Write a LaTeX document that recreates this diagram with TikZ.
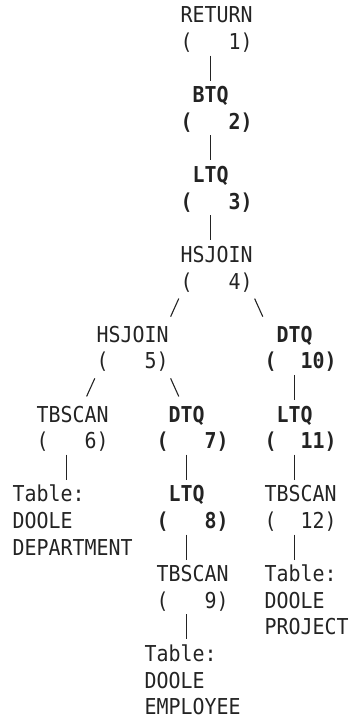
\documentclass[tikz,border=0pt]{standalone}
\usepackage{fontspec}
\usepackage{tikz}
\setmonofont{DejaVu Sans Mono}[FakeStretch=0.91]
\definecolor{ink}{RGB}{35,35,35}

\begin{document}
\begin{tikzpicture}[x=12pt,y=-26.6pt,
op/.style={anchor=west,inner sep=0pt,outer sep=0pt,text height=21.3pt,text depth=5.3pt,text=ink,font=\ttfamily\fontsize{21.9pt}{26.6pt}\selectfont},
opq/.style={op,font=\ttfamily\bfseries\fontsize{21.9pt}{26.6pt}\selectfont},
pipe/.style={draw=ink,line width=1.1pt,shorten <=0.8pt,shorten >=0.8pt},
slash/.style={draw=ink,line width=1.1pt,shorten <=4.7pt,shorten >=4.7pt}
]
\useasboundingbox (-12.7pt,15pt) rectangle (335.3pt,-704pt);

\node[op] (ret) at (14,0) {RETURN};
\node[op] (retn) at (14,1) {(\ \ \ 1)};
\node[opq] (btq) at (15,3) {BTQ};
\node[opq] (btqn) at (14,4) {(\ \ \ 2)};
\node[opq] (ltqa) at (15,6) {LTQ};
\node[opq] (ltqan) at (14,7) {(\ \ \ 3)};
\node[op] (hsja) at (14,9) {HSJOIN};
\node[op] (hsjan) at (14,10) {(\ \ \ 4)};

\node[op] (hsjb) at (7,12) {HSJOIN};
\node[op] (hsjbn) at (7,13) {(\ \ \ 5)};
\node[opq] (dtqa) at (22,12) {DTQ};
\node[opq] (dtqan) at (21,13) {(\ \ 10)};

\node[op] (tbsa) at (2,15) {TBSCAN};
\node[op] (tbsan) at (2,16) {(\ \ \ 6)};
\node[opq] (dtqb) at (13,15) {DTQ};
\node[opq] (dtqbn) at (12,16) {(\ \ \ 7)};
\node[opq] (ltqb) at (22,15) {LTQ};
\node[opq] (ltqbn) at (21,16) {(\ \ 11)};

\node[op] (dept1) at (0,18) {Table:};
\node[op] (dept2) at (0,19) {DOOLE};
\node[op] (dept3) at (0,20) {DEPARTMENT};
\node[opq] (ltqc) at (13,18) {LTQ};
\node[opq] (ltqcn) at (12,19) {(\ \ \ 8)};
\node[op] (tbsc) at (21,18) {TBSCAN};
\node[op] (tbscn) at (21,19) {(\ \ 12)};

\node[op] (tbsb) at (12,21) {TBSCAN};
\node[op] (tbsbn) at (12,22) {(\ \ \ 9)};
\node[op] (proj1) at (21,21) {Table:};
\node[op] (proj2) at (21,22) {DOOLE};
\node[op] (proj3) at (21,23) {PROJECT};

\node[op] (emp1) at (11,24) {Table:};
\node[op] (emp2) at (11,25) {DOOLE};
\node[op] (emp3) at (11,26) {EMPLOYEE};

% pipes
\draw[pipe] ([xshift=-6pt]retn.south) -- ([xshift=-6pt]retn.south |- btq.north);
\draw[pipe] ([xshift=-6pt]btqn.south) -- ([xshift=-6pt]btqn.south |- ltqa.north);
\draw[pipe] ([xshift=-6pt]ltqan.south) -- ([xshift=-6pt]ltqan.south |- hsja.north);
\draw[pipe] ([xshift=-6pt]dtqan.south) -- ([xshift=-6pt]dtqan.south |- ltqb.north);
\draw[pipe] ([xshift=-6pt]tbsan.south) -- ([xshift=-6pt]tbsan.south |- dept1.north);
\draw[pipe] ([xshift=-6pt]dtqbn.south) -- ([xshift=-6pt]dtqbn.south |- ltqc.north);
\draw[pipe] ([xshift=-6pt]ltqbn.south) -- ([xshift=-6pt]ltqbn.south |- tbsc.north);
\draw[pipe] ([xshift=-6pt]ltqcn.south) -- ([xshift=-6pt]ltqcn.south |- tbsb.north);
\draw[pipe] ([xshift=-6pt]tbscn.south) -- ([xshift=-6pt]tbscn.south |- proj1.north);
\draw[pipe] ([xshift=-6pt]tbsbn.south) -- ([xshift=-6pt]tbsbn.south |- emp1.north);

% slashes
\draw[slash] (hsjan.south west) -- (hsjb.north east);
\draw[slash] (hsjan.south east) -- (dtqan.west |- dtqa.north);
\draw[slash] (hsjbn.south west) -- ([xshift=-24pt]tbsa.north east);
\draw[slash] (hsjbn.south east) -- ([xshift=12pt]dtqb.north west);
\end{tikzpicture}
\end{document}
